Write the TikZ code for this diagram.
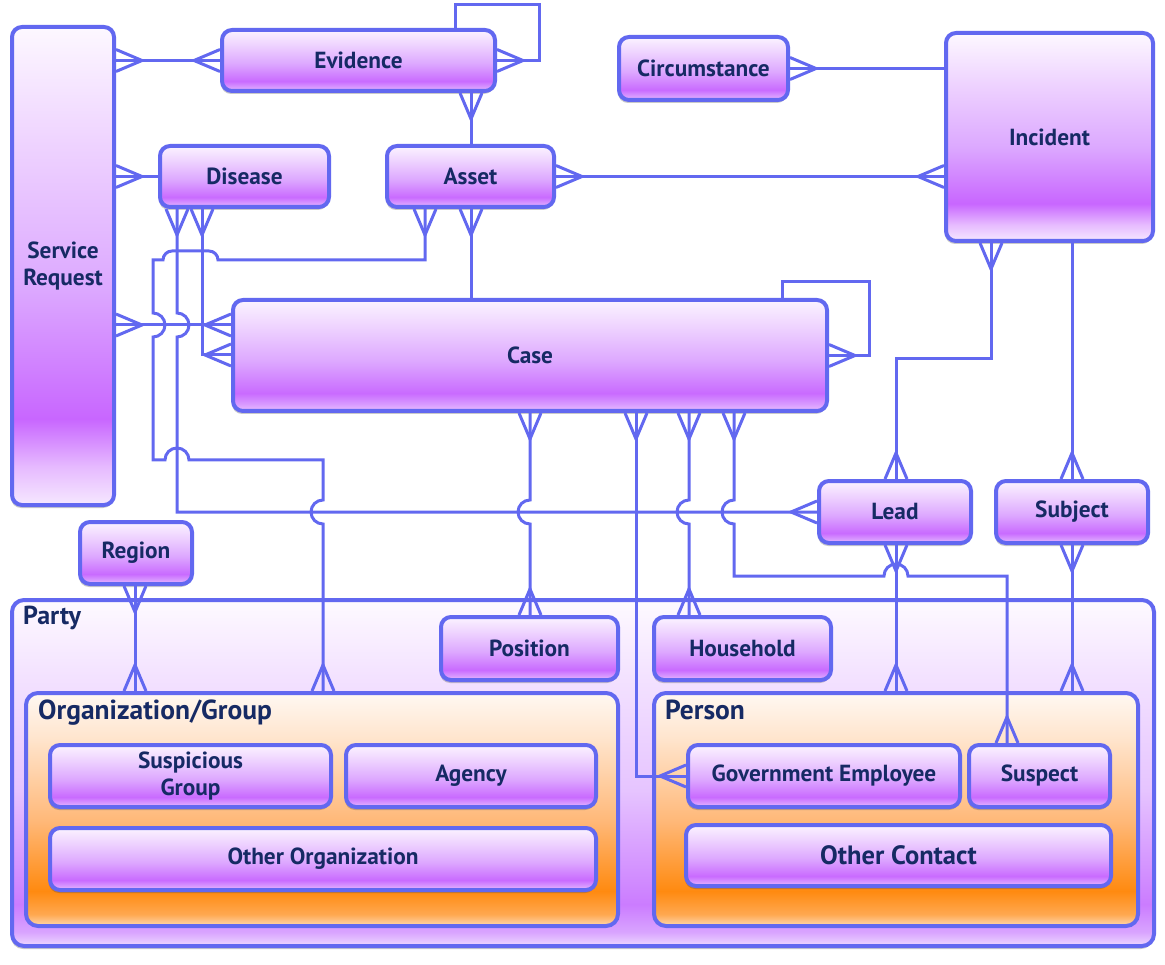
\documentclass[tikz,border=0pt]{standalone}
\usepackage{fontspec}
\setmainfont{PT Sans}
\usetikzlibrary{arrows.meta,shadows,calc}
\definecolor{lnc}{RGB}{98,104,240}
\definecolor{txc}{RGB}{22,42,100}
% violet box shading
\definecolor{bA}{HTML}{EAC0FF}\definecolor{bB}{HTML}{D99CFF}\definecolor{bC}{HTML}{C96BFF}
\definecolor{bD}{HTML}{DDA8FF}\definecolor{bE}{HTML}{EED2FF}\definecolor{bF}{HTML}{FBF3FF}
% tall
\definecolor{tA}{HTML}{F6E8FF}\definecolor{tB}{HTML}{E6BAFF}\definecolor{tC}{HTML}{C866FF}
\definecolor{tD}{HTML}{DCA8FF}\definecolor{tE}{HTML}{EED2FF}\definecolor{tF}{HTML}{FDF8FF}
% party
\definecolor{pA}{HTML}{EDD8FF}\definecolor{pB}{HTML}{D9A4FF}\definecolor{pC}{HTML}{CB7CFF}
\definecolor{pD}{HTML}{E6C4FF}\definecolor{pE}{HTML}{F4E4FF}\definecolor{pF}{HTML}{FEFAFF}
% orange
\definecolor{oA}{HTML}{FFD8B0}\definecolor{oB}{HTML}{FFA850}\definecolor{oC}{HTML}{FF8A10}
\definecolor{oD}{HTML}{FFB878}\definecolor{oE}{HTML}{FFE4CC}\definecolor{oF}{HTML}{FFF8F2}
\pgfdeclareverticalshading{boxsh}{100bp}{color(0bp)=(bA); color(25bp)=(bA); color(28bp)=(bB); color(33bp)=(bC); color(47.5bp)=(bD); color(62.5bp)=(bE); color(75bp)=(bF); color(100bp)=(bF)}
\pgfdeclareverticalshading{tallsh}{100bp}{color(0bp)=(tA); color(25bp)=(tA); color(29bp)=(tB); color(34bp)=(tC); color(47.5bp)=(tD); color(62.5bp)=(tE); color(75bp)=(tF); color(100bp)=(tF)}
\pgfdeclareverticalshading{partysh}{100bp}{color(0bp)=(pA); color(25bp)=(pA); color(27bp)=(pB); color(31bp)=(pC); color(47.5bp)=(pD); color(65bp)=(pE); color(75bp)=(pF); color(100bp)=(pF)}
\pgfdeclareverticalshading{orgsh}{100bp}{color(0bp)=(oA); color(25bp)=(oA); color(27.5bp)=(oB); color(32.5bp)=(oC); color(47.5bp)=(oD); color(65bp)=(oE); color(75bp)=(oF); color(100bp)=(oF)}
\pgfdeclarearrow{
  name = Crow,
  setup code = {
    \pgfarrowssettipend{0pt}
    \pgfarrowssetlineend{0pt}
    \pgfarrowssetbackend{-26pt}
    \pgfarrowshullpoint{0pt}{11pt}
    \pgfarrowshullpoint{-26pt}{0pt}
    \pgfarrowshullpoint{0pt}{-11pt}
  },
  drawing code = {
    \pgfsetdash{}{0pt}
    \pgfsetlinewidth{3pt}
    \pgfsetmiterjoin
    \pgfpathmoveto{\pgfqpoint{0pt}{11pt}}
    \pgfpathlineto{\pgfqpoint{-26pt}{0pt}}
    \pgfpathlineto{\pgfqpoint{0pt}{-11pt}}
    \pgfusepathqstroke
  }
}
\newcommand{\mkbox}[7][ebox]{\node[#1, minimum width={(#5-#3)*1pt}, minimum height={(#6-#4)*1pt}] (#2) at ({(#3+#5)/2},{(#4+#6)/2}) {#7};}
\tikzset{
  conn/.style={draw=lnc, line width=3pt},
  ebox/.style={shade, shading=boxsh, draw=lnc, line width=4pt, rounded corners=10pt, inner sep=0pt,
    text=txc, align=center, font=\bfseries\fontsize{23.3}{27}\selectfont,
    drop shadow={shadow xshift=-1pt, shadow yshift=-3pt, opacity=0.3, fill=black!70}},
  tallbox/.style={shading=tallsh},
  cont/.style={shade, draw=lnc, line width=4pt, rounded corners=12pt, inner sep=0pt},
  clbl/.style={text=txc, font=\bfseries\fontsize{27.5}{30}\selectfont, inner sep=0pt, anchor=base west},
}
\begin{document}
\begin{tikzpicture}[x=1pt,y=-1pt]
\useasboundingbox (0,0) rectangle (1165,965);
% containers
\mkbox[cont,shading=partysh,drop shadow={shadow xshift=-1pt, shadow yshift=-3pt, opacity=0.3, fill=black!70}]{party}{12}{600}{1154}{946}{}
\mkbox[cont,shading=orgsh]{org}{26}{693}{618}{926}{}
\mkbox[cont,shading=orgsh]{person}{654}{693}{1138}{926}{}
\node[clbl, font=\bfseries\fontsize{26}{28}\selectfont] (partylbl) at (23,624) {Party};
\node[clbl] (orglbl) at (38,719) {Organization/Group};
\node[clbl] (perslbl) at (665,719) {Person};
% boxes
\mkbox[ebox,tallbox]{sr}{12}{27}{114}{505}{Service\\Request}
\mkbox{evid}{222}{30}{495}{91}{Evidence}
\mkbox{circ}{619}{37}{788}{100}{Circumstance}
\mkbox[ebox,tallbox]{inc}{946}{33}{1153}{241}{Incident}
\mkbox{dis}{160}{146}{329}{207}{Disease}
\mkbox{asset}{387}{146}{554}{207}{Asset}
\mkbox{case}{233}{300}{827}{411}{Case}
\mkbox{lead}{819}{481}{971}{543}{Lead}
\mkbox{subj}{996}{481}{1148}{543}{Subject}
\mkbox{region}{80}{522}{192}{584}{Region}
\mkbox{pos}{441}{617}{618}{680}{Position}
\mkbox{hh}{654}{617}{831}{680}{Household}
\mkbox{susg}{50}{745}{331}{807}{Suspicious\\Group}
\mkbox{agency}{346}{745}{596}{807}{Agency}
\mkbox{othorg}{50}{828}{596}{890}{Other Organization}
\mkbox{gov}{688}{745}{960}{807}{Government Employee}
\mkbox{susp}{969}{745}{1110}{807}{Suspect}
\mkbox[ebox,font=\bfseries\fontsize{26.5}{29}\selectfont]{othc}{686}{825}{1111}{886}{Other Contact}
% connectors
\draw[conn,Crow-Crow] (sr.east |- evid.west) -- (evid.west);
\draw[conn,-Crow] (455,0 |- evid.north) |- (539,5) |- (evid.east);
\draw[conn,Crow-] (471,0 |- evid.south) -- (471,0 |- asset.north);
\draw[conn,Crow-] (sr.east |- dis.west) -- (dis.west);
\draw[conn,Crow-Crow] (sr.east |- 0,325) -- (case.west |- 0,325);
\draw[conn,Crow-Crow] (202,0 |- dis.south) |- (case.west |- 0,355);
\draw[conn,Crow-Crow] (177,0 |- dis.south) -- (177,313) arc[start angle=-90,end angle=90,radius=12] -- (177,512) -- (lead.west |- 0,512);
\draw[conn,Crow-Crow] (425,0 |- asset.south) -- (425,260) -- (218,260) arc[start angle=0,end angle=-90,radius=9] -- (172,251) arc[start angle=-90,end angle=-180,radius=9] -- (153,260) -- (153,313) arc[start angle=-90,end angle=90,radius=12] -- (153,460) -- (165,460) arc[start angle=180,end angle=360,radius=12] -- (323,460) -- (323,500) arc[start angle=-90,end angle=-270,radius=12] -- (323,0 |- org.north);
\draw[conn,Crow-] (471,0 |- asset.south) -- (471,0 |- case.north);
\draw[conn,Crow-Crow] (asset.east) -- (inc.west |- asset.east);
\draw[conn,Crow-] (circ.east) -- (inc.west |- circ.east);
\draw[conn,Crow-Crow] (991,0 |- inc.south) |- (896,359) -- (896,0 |- lead.north);
\draw[conn,-Crow] (1072,0 |- inc.south) -- (1072,0 |- subj.north);
\draw[conn,-Crow] (782,0 |- case.north) |- (869,282) |- (case.east);
\draw[conn,Crow-Crow] (530,0 |- case.south) -- (530,500) arc[start angle=-90,end angle=-270,radius=12] -- (530,0 |- pos.north);
\draw[conn,Crow-Crow] (636,0 |- case.south) |- (gov.west);
\draw[conn,Crow-Crow] (689,0 |- case.south) -- (689,500) arc[start angle=-90,end angle=-270,radius=12] -- (689,0 |- hh.north);
\draw[conn,Crow-Crow] (734,0 |- case.south) -- (734,500) arc[start angle=-90,end angle=-270,radius=12] -- (734,576) -- (884,576) arc[start angle=180,end angle=360,radius=12] -- (1007,576) -- (1007,0 |- susp.north);
\draw[conn,Crow-Crow] (896,0 |- lead.south) -- (896,0 |- person.north);
\draw[conn,Crow-Crow] (1072,0 |- subj.south) -- (1072,0 |- person.north);
\draw[conn,Crow-Crow] (135,0 |- region.south) -- (135,0 |- org.north);
\end{tikzpicture}
\end{document}
